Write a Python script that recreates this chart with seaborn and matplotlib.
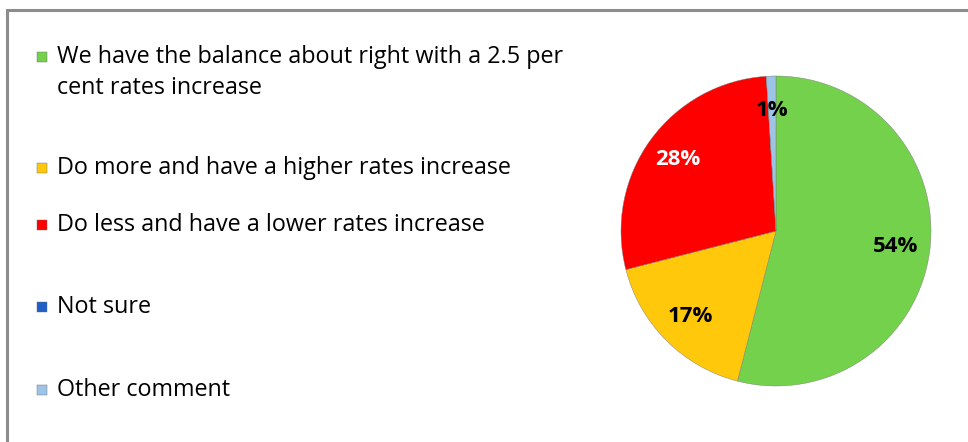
import matplotlib
matplotlib.use("Agg")
import matplotlib.pyplot as plt
import seaborn as sns
from matplotlib.patches import Rectangle

sns.set_theme(style="white")
plt.rcParams['font.family'] = ['Open Sans', 'DejaVu Sans']

categories = ["We have the balance about right with a 2.5 per\ncent rates increase",
              "Do more and have a higher rates increase",
              "Do less and have a lower rates increase",
              "Not sure",
              "Other comment"]
values = [54, 17, 28, 0, 1]
colors = sns.color_palette(["#74D14C", "#FFC80A", "#FF0000", "#1F5FC8", "#9DC3E6"])
label_colors = ["black", "black", "white", "black", "black"]

W, H = 968, 442
fig = plt.figure(figsize=(W / 100, H / 100), dpi=100)
fig.patch.set_facecolor("white")

# outer frame (top and left edges visible)
fig.add_artist(Rectangle((6.5 / W, -0.2), 2.0, (H - 9.5) / H + 0.2, transform=fig.transFigure,
                         fill=False, edgecolor="#8c8c8c", linewidth=2.2))

# pie
cx, cy, r = 776, 231, 155
size = 2.5 * r
ax = fig.add_axes([(cx - size / 2) / W, (H - cy - size / 2) / H, size / W, size / H])
wedges, texts, autotexts = ax.pie(
    values, colors=colors, startangle=90, counterclock=False,
    autopct=lambda p: f"{p:.0f}%" if p >= 0.5 else "",
    pctdistance=0.78,
    wedgeprops=dict(edgecolor="#7a7a7a", linewidth=0.3),
    textprops=dict(fontsize=16, fontweight="bold"))
for t, c in zip(autotexts, label_colors):
    t.set_color(c)
ax.set_aspect("equal")

# legend (manually laid out to match the reference spacing)
rows_y = [57, 168, 225, 307, 390]
for lab, col, y in zip(categories, colors, rows_y):
    fig.add_artist(Rectangle((37 / W, (H - y - 5) / H), 10 / W, 10 / H, transform=fig.transFigure,
                             facecolor=col, edgecolor="#6a6a6a", linewidth=0.3))
    lines = lab.split("\n")
    for i, ln in enumerate(lines):
        fig.text(57 / W, (H - y - 31 * i) / H, ln, fontsize=16.8, color="black",
                 va="center", ha="left")

fig.savefig("out.png", dpi=100, facecolor="white")
